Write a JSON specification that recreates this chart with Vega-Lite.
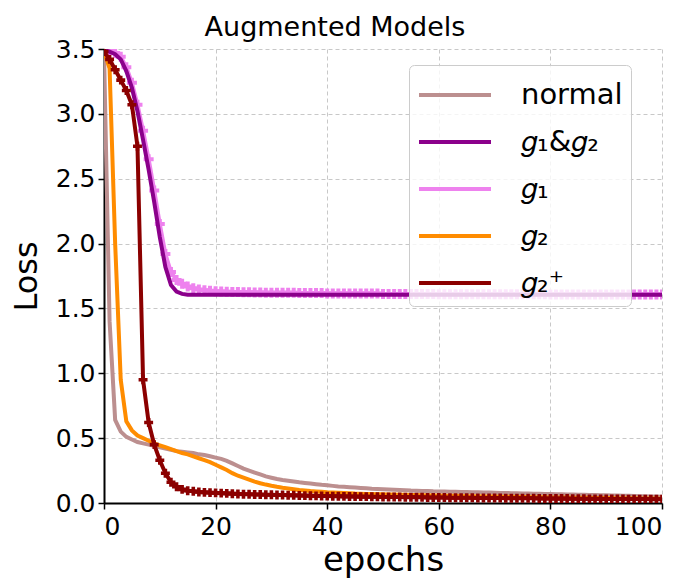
{
  "$schema": "https://vega.github.io/schema/vega-lite/v6.json",
  "autosize": {"type": "none"},
  "width": 558,
  "height": 454,
  "padding": {"left": 104, "top": 49, "right": 25, "bottom": 79},
  "background": "white",
  "title": {"text": "Augmented Models", "fontSize": 27, "font": "DejaVu Sans", "fontWeight": "normal", "color": "black", "anchor": "middle", "dx": -48, "offset": -5},
  "config": {
    "view": {"stroke": null},
    "axis": {
      "labelFont": "DejaVu Sans", "titleFont": "DejaVu Sans", "labelColor": "black", "titleColor": "black",
      "labelFontSize": 25, "titleFontWeight": "normal",
      "domainColor": "black", "domainWidth": 2, "tickColor": "black", "tickSize": 6, "tickWidth": 1.5,
      "grid": true, "gridDash": [4, 3], "gridColor": "#b0b0b0", "gridOpacity": 0.7, "gridWidth": 1
    },
    "legend": {"labelFont": "DejaVu Sans"}
  },
  "data": {"values": [
    {"e":0,"n":3.48,"gg":3.49,"g1":3.5,"g2":3.48,"gp":3.48},
    {"e":1,"n":1.4,"gg":3.48,"g1":3.49,"g2":3.35,"gp":3.42},
    {"e":2,"n":0.64,"gg":3.46,"g1":3.47,"g2":2.0,"gp":3.34},
    {"e":3,"n":0.55,"gg":3.42,"g1":3.44,"g2":0.95,"gp":3.26},
    {"e":4,"n":0.51,"gg":3.33,"g1":3.36,"g2":0.63,"gp":3.18},
    {"e":5,"n":0.49,"gg":3.2,"g1":3.24,"g2":0.56,"gp":3.07},
    {"e":6,"n":0.47,"gg":3.02,"g1":3.07,"g2":0.52,"gp":2.75},
    {"e":7,"n":0.46,"gg":2.8,"g1":2.87,"g2":0.5,"gp":0.95},
    {"e":8,"n":0.45,"gg":2.57,"g1":2.65,"g2":0.48,"gp":0.62},
    {"e":9,"n":0.44,"gg":2.32,"g1":2.41,"g2":0.46,"gp":0.45},
    {"e":10,"n":0.43,"gg":2.05,"g1":2.15,"g2":0.445,"gp":0.33},
    {"e":11,"n":0.42,"gg":1.82,"g1":1.92,"g2":0.43,"gp":0.23},
    {"e":12,"n":0.41,"gg":1.68,"g1":1.78,"g2":0.415,"gp":0.16},
    {"e":13,"n":0.4,"gg":1.63,"g1":1.72,"g2":0.4,"gp":0.125},
    {"e":14,"n":0.395,"gg":1.612,"g1":1.69,"g2":0.385,"gp":0.105},
    {"e":15,"n":0.39,"gg":1.605,"g1":1.67,"g2":0.375,"gp":0.095},
    {"e":16,"n":0.385,"gg":1.605,"g1":1.655,"g2":0.36,"gp":0.09},
    {"e":17,"n":0.375,"gg":1.605,"g1":1.645,"g2":0.345,"gp":0.085},
    {"e":18,"n":0.37,"gg":1.605,"g1":1.64,"g2":0.33,"gp":0.082},
    {"e":19,"n":0.36,"gg":1.605,"g1":1.636,"g2":0.315,"gp":0.08},
    {"e":20,"n":0.35,"gg":1.605,"g1":1.633,"g2":0.295,"gp":0.078},
    {"e":21,"n":0.34,"gg":1.605,"g1":1.631,"g2":0.275,"gp":0.076},
    {"e":22,"n":0.325,"gg":1.605,"g1":1.629,"g2":0.255,"gp":0.074},
    {"e":23,"n":0.305,"gg":1.605,"g1":1.627,"g2":0.23,"gp":0.072},
    {"e":24,"n":0.285,"gg":1.605,"g1":1.626,"g2":0.21,"gp":0.07},
    {"e":25,"n":0.265,"gg":1.605,"g1":1.625,"g2":0.195,"gp":0.068},
    {"e":26,"n":0.25,"gg":1.605,"g1":1.624,"g2":0.18,"gp":0.067},
    {"e":27,"n":0.235,"gg":1.605,"g1":1.623,"g2":0.165,"gp":0.066},
    {"e":28,"n":0.22,"gg":1.605,"g1":1.622,"g2":0.152,"gp":0.065},
    {"e":29,"n":0.205,"gg":1.605,"g1":1.621,"g2":0.142,"gp":0.064},
    {"e":30,"n":0.195,"gg":1.605,"g1":1.62,"g2":0.133,"gp":0.063},
    {"e":31,"n":0.185,"gg":1.605,"g1":1.62,"g2":0.125,"gp":0.062},
    {"e":32,"n":0.178,"gg":1.605,"g1":1.62,"g2":0.118,"gp":0.061},
    {"e":33,"n":0.172,"gg":1.605,"g1":1.62,"g2":0.112,"gp":0.06},
    {"e":34,"n":0.166,"gg":1.605,"g1":1.62,"g2":0.106,"gp":0.059},
    {"e":35,"n":0.16,"gg":1.605,"g1":1.618,"g2":0.1,"gp":0.058},
    {"e":36,"n":0.155,"gg":1.605,"g1":1.618,"g2":0.096,"gp":0.057},
    {"e":37,"n":0.15,"gg":1.605,"g1":1.618,"g2":0.092,"gp":0.056},
    {"e":38,"n":0.145,"gg":1.605,"g1":1.618,"g2":0.089,"gp":0.055},
    {"e":39,"n":0.14,"gg":1.605,"g1":1.618,"g2":0.086,"gp":0.054},
    {"e":40,"n":0.136,"gg":1.605,"g1":1.615,"g2":0.083,"gp":0.053},
    {"e":41,"n":0.132,"gg":1.605,"g1":1.615,"g2":0.081,"gp":0.052},
    {"e":42,"n":0.128,"gg":1.605,"g1":1.615,"g2":0.079,"gp":0.052},
    {"e":43,"n":0.125,"gg":1.605,"g1":1.615,"g2":0.077,"gp":0.051},
    {"e":44,"n":0.122,"gg":1.605,"g1":1.615,"g2":0.075,"gp":0.05},
    {"e":45,"n":0.119,"gg":1.605,"g1":1.615,"g2":0.073,"gp":0.05},
    {"e":46,"n":0.116,"gg":1.605,"g1":1.615,"g2":0.072,"gp":0.049},
    {"e":47,"n":0.113,"gg":1.605,"g1":1.615,"g2":0.07,"gp":0.049},
    {"e":48,"n":0.11,"gg":1.605,"g1":1.615,"g2":0.069,"gp":0.048},
    {"e":49,"n":0.108,"gg":1.605,"g1":1.615,"g2":0.068,"gp":0.048},
    {"e":50,"n":0.106,"gg":1.605,"g1":1.612,"g2":0.067,"gp":0.047},
    {"e":51,"n":0.104,"gg":1.605,"g1":1.612,"g2":0.066,"gp":0.047},
    {"e":52,"n":0.102,"gg":1.605,"g1":1.612,"g2":0.065,"gp":0.046},
    {"e":53,"n":0.1,"gg":1.605,"g1":1.612,"g2":0.064,"gp":0.046},
    {"e":54,"n":0.098,"gg":1.605,"g1":1.612,"g2":0.063,"gp":0.045},
    {"e":55,"n":0.096,"gg":1.605,"g1":1.612,"g2":0.062,"gp":0.045},
    {"e":56,"n":0.095,"gg":1.605,"g1":1.612,"g2":0.061,"gp":0.044},
    {"e":57,"n":0.093,"gg":1.605,"g1":1.612,"g2":0.06,"gp":0.044},
    {"e":58,"n":0.092,"gg":1.605,"g1":1.612,"g2":0.059,"gp":0.043},
    {"e":59,"n":0.09,"gg":1.605,"g1":1.612,"g2":0.058,"gp":0.043},
    {"e":60,"n":0.089,"gg":1.605,"g1":1.61,"g2":0.057,"gp":0.042},
    {"e":61,"n":0.088,"gg":1.605,"g1":1.61,"g2":0.056,"gp":0.042},
    {"e":62,"n":0.087,"gg":1.605,"g1":1.61,"g2":0.055,"gp":0.041},
    {"e":63,"n":0.086,"gg":1.605,"g1":1.61,"g2":0.055,"gp":0.041},
    {"e":64,"n":0.085,"gg":1.605,"g1":1.61,"g2":0.054,"gp":0.04},
    {"e":65,"n":0.084,"gg":1.605,"g1":1.61,"g2":0.053,"gp":0.04},
    {"e":66,"n":0.083,"gg":1.605,"g1":1.61,"g2":0.052,"gp":0.04},
    {"e":67,"n":0.082,"gg":1.605,"g1":1.61,"g2":0.052,"gp":0.039},
    {"e":68,"n":0.081,"gg":1.605,"g1":1.61,"g2":0.051,"gp":0.039},
    {"e":69,"n":0.08,"gg":1.605,"g1":1.61,"g2":0.05,"gp":0.038},
    {"e":70,"n":0.079,"gg":1.605,"g1":1.61,"g2":0.05,"gp":0.038},
    {"e":71,"n":0.078,"gg":1.605,"g1":1.61,"g2":0.049,"gp":0.038},
    {"e":72,"n":0.077,"gg":1.605,"g1":1.61,"g2":0.048,"gp":0.037},
    {"e":73,"n":0.076,"gg":1.605,"g1":1.61,"g2":0.048,"gp":0.037},
    {"e":74,"n":0.075,"gg":1.605,"g1":1.61,"g2":0.047,"gp":0.037},
    {"e":75,"n":0.074,"gg":1.605,"g1":1.61,"g2":0.046,"gp":0.036},
    {"e":76,"n":0.073,"gg":1.605,"g1":1.61,"g2":0.046,"gp":0.036},
    {"e":77,"n":0.072,"gg":1.605,"g1":1.61,"g2":0.045,"gp":0.036},
    {"e":78,"n":0.071,"gg":1.605,"g1":1.61,"g2":0.045,"gp":0.035},
    {"e":79,"n":0.07,"gg":1.605,"g1":1.61,"g2":0.044,"gp":0.035},
    {"e":80,"n":0.069,"gg":1.605,"g1":1.608,"g2":0.043,"gp":0.035},
    {"e":81,"n":0.068,"gg":1.605,"g1":1.608,"g2":0.043,"gp":0.034},
    {"e":82,"n":0.067,"gg":1.605,"g1":1.608,"g2":0.042,"gp":0.034},
    {"e":83,"n":0.066,"gg":1.605,"g1":1.608,"g2":0.042,"gp":0.034},
    {"e":84,"n":0.065,"gg":1.605,"g1":1.608,"g2":0.041,"gp":0.033},
    {"e":85,"n":0.064,"gg":1.605,"g1":1.608,"g2":0.041,"gp":0.033},
    {"e":86,"n":0.063,"gg":1.605,"g1":1.608,"g2":0.04,"gp":0.033},
    {"e":87,"n":0.062,"gg":1.605,"g1":1.608,"g2":0.04,"gp":0.032},
    {"e":88,"n":0.061,"gg":1.605,"g1":1.608,"g2":0.039,"gp":0.032},
    {"e":89,"n":0.06,"gg":1.605,"g1":1.608,"g2":0.039,"gp":0.032},
    {"e":90,"n":0.059,"gg":1.605,"g1":1.608,"g2":0.038,"gp":0.031},
    {"e":91,"n":0.058,"gg":1.605,"g1":1.608,"g2":0.038,"gp":0.031},
    {"e":92,"n":0.057,"gg":1.605,"g1":1.608,"g2":0.037,"gp":0.031},
    {"e":93,"n":0.056,"gg":1.605,"g1":1.608,"g2":0.037,"gp":0.031},
    {"e":94,"n":0.055,"gg":1.605,"g1":1.608,"g2":0.036,"gp":0.03},
    {"e":95,"n":0.054,"gg":1.605,"g1":1.608,"g2":0.036,"gp":0.03},
    {"e":96,"n":0.053,"gg":1.605,"g1":1.608,"g2":0.035,"gp":0.03},
    {"e":97,"n":0.052,"gg":1.605,"g1":1.608,"g2":0.035,"gp":0.03},
    {"e":98,"n":0.051,"gg":1.605,"g1":1.608,"g2":0.034,"gp":0.029},
    {"e":99,"n":0.05,"gg":1.605,"g1":1.608,"g2":0.034,"gp":0.029},
    {"e":100,"n":0.049,"gg":1.605,"g1":1.608,"g2":0.033,"gp":0.029}
  ]},
  "transform": [{"fold": ["n", "gg", "g1", "g2", "gp"], "as": ["model", "loss"]}],
  "encoding": {
    "x": {"field": "e", "type": "quantitative", "scale": {"domain": [0, 100], "nice": false},
          "axis": {"values": [0, 20, 40, 60, 80, 100], "title": "epochs", "titleFontSize": 34, "labelPadding": 5, "titlePadding": 4}},
    "y": {"field": "loss", "type": "quantitative", "scale": {"domain": [0, 3.5], "nice": false},
          "axis": {"values": [0, 0.5, 1, 1.5, 2, 2.5, 3, 3.5], "format": ".1f", "title": "Loss", "titleFontSize": 32, "labelPadding": 3, "titlePadding": 12}}
  },
  "layer": [
    {"transform": [{"filter": "datum.model == 'n'"}], "mark": {"type": "line", "strokeWidth": 4, "clip": true},
     "encoding": {"color": {"field": "model", "type": "nominal",
       "scale": {"domain": ["n", "gg", "g1", "g2", "gp"], "range": ["#bc8f8f", "#8b008b", "#ee82ee", "#ff8c00", "#8b0000"]},
       "legend": {"orient": "none", "legendX": 305, "legendY": 16, "title": null, "symbolType": "M-1,0H2.6", "symbolSize": 1600, "symbolStrokeWidth": 4, "labelFontSize": 29, "labelOffset": 60, "labelColor": "black", "padding": 8, "rowPadding": 10, "fillColor": "rgba(255,255,255,0.8)", "strokeColor": "#cccccc", "cornerRadius": 5,
         "labelExpr": "{'n':'normal','gg':'𝑔₁&𝑔₂','g1':'𝑔₁','g2':'𝑔₂','gp':'𝑔₂⁺'}[datum.label]"}}}},
    {"transform": [{"filter": "datum.model == 'g2'"}], "mark": {"type": "line", "strokeWidth": 4, "clip": true},
     "encoding": {"color": {"field": "model", "type": "nominal"}}},
    {"transform": [{"filter": "datum.model == 'g1'"}], "mark": {"type": "line", "strokeWidth": 4, "clip": true},
     "encoding": {"color": {"field": "model", "type": "nominal"}}},
    {"transform": [{"filter": "datum.model == 'g1'"}], "mark": {"type": "point", "shape": "cross", "filled": true, "size": 100, "color": "#ee82ee", "opacity": 1, "clip": true}},
    {"transform": [{"filter": "datum.model == 'gg'"}], "mark": {"type": "line", "strokeWidth": 4, "clip": true},
     "encoding": {"color": {"field": "model", "type": "nominal"}}},
    {"transform": [{"filter": "datum.model == 'gp'"}], "mark": {"type": "line", "strokeWidth": 4, "clip": true},
     "encoding": {"color": {"field": "model", "type": "nominal"}}},
    {"transform": [{"filter": "datum.model == 'gp'"}], "mark": {"type": "point", "shape": "cross", "filled": true, "size": 80, "color": "#8b0000", "opacity": 1, "clip": true}}
  ]
}
